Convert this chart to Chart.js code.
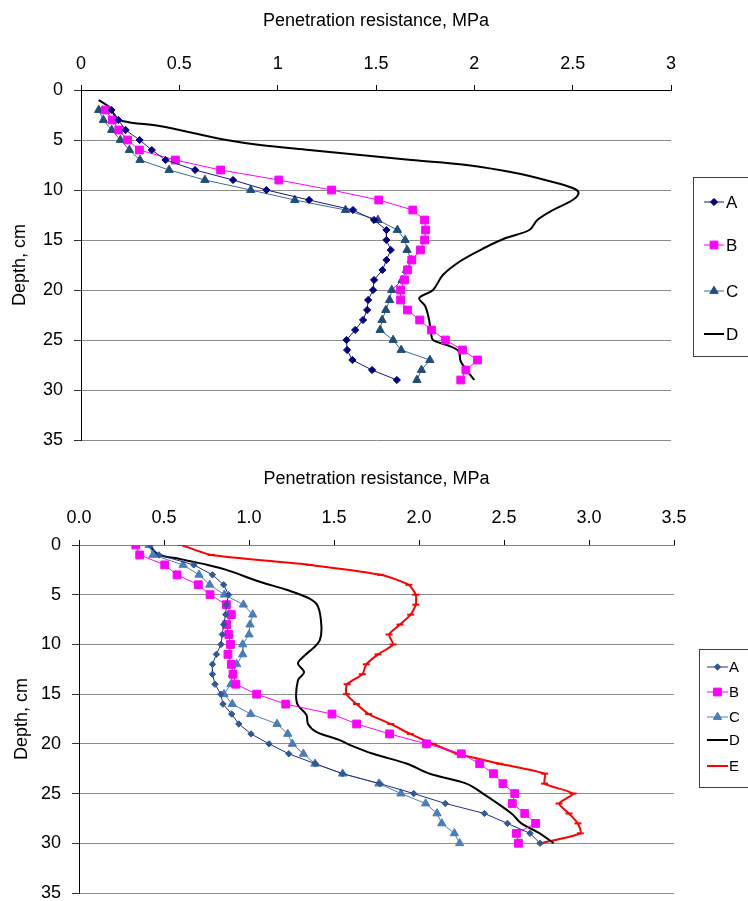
<!DOCTYPE html>
<html>
<head>
<meta charset="utf-8">
<script src="https://cdn.jsdelivr.net/npm/chart.js@4.4.0/dist/chart.umd.min.js"></script>
<style>
  html, body { margin: 0; padding: 0; background: #fff; }
  #wrap1 { position: absolute; left: 0; top: 0; width: 748px; height: 450px; }
  #wrap2 { position: absolute; left: 0; top: 450px; width: 748px; height: 451px; }
</style>
</head>
<body>
<div id="wrap1"><canvas id="chart1" width="748" height="450"></canvas></div>
<div id="wrap2"><canvas id="chart2" width="748" height="451"></canvas></div>
<script>
// ---- top chart data (depth in cm, resistance in MPa) ----
const depth1 = [2,3,4,5,6,7,8,9,10,11,12,13,14,15,16,17,18,19,20,21,22,23,24,25,26,27,28,29];
const a1 = [0.155,0.19,0.227,0.298,0.36,0.43,0.58,0.773,0.943,1.16,1.383,1.49,1.553,1.553,1.575,1.553,1.533,1.49,1.485,1.46,1.455,1.434,1.394,1.35,1.353,1.38,1.48,1.606];
const b1 = [0.124,0.16,0.192,0.237,0.297,0.48,0.71,1.006,1.274,1.514,1.687,1.747,1.752,1.747,1.726,1.682,1.66,1.645,1.625,1.625,1.66,1.722,1.782,1.853,1.94,2.016,1.957,1.931];
const c1 = [0.09,0.114,0.156,0.2,0.246,0.3,0.448,0.63,0.863,1.087,1.345,1.51,1.609,1.648,1.658,1.68,1.655,1.633,1.58,1.569,1.55,1.531,1.521,1.587,1.628,1.774,1.731,1.708];
const dDepth1 = [1.0,1.8,2.5,3.1,3.6,4.3,5.0,5.5,6.0,6.5,7.0,7.5,8.3,9.1,9.8,10.3,11.0,12.0,13.0,14.0,14.8,15.8,17.1,18.5,20.0,20.8,21.6,23.0,24.3,25.0,25.5,26.1,27.1,28.0,29.0];
const d1 = [0.09,0.15,0.17,0.21,0.40,0.57,0.74,0.91,1.16,1.42,1.68,1.96,2.21,2.38,2.50,2.53,2.50,2.40,2.32,2.28,2.16,2.05,1.93,1.84,1.79,1.72,1.75,1.77,1.78,1.79,1.86,1.92,1.93,1.96,2.00];

// ---- bottom chart data ----
const depth2 = [0,1,2,3,4,5,6,7,8,9,10,11,12,13,14,15,16,17,18,19,20,21,22,23,24,25,26,27,28,29,30];
const a2 = [0.416,0.47,0.675,0.785,0.851,0.88,0.867,0.863,0.851,0.843,0.835,0.808,0.785,0.785,0.8,0.834,0.847,0.898,0.94,1.012,1.118,1.234,1.39,1.55,1.77,1.969,2.155,2.385,2.52,2.653,2.712];
const b2 = [0.334,0.357,0.504,0.577,0.702,0.771,0.867,0.896,0.869,0.881,0.891,0.876,0.896,0.906,0.922,1.045,1.216,1.488,1.633,1.827,2.044,2.249,2.357,2.438,2.494,2.563,2.549,2.622,2.686,2.573,2.585];
const c2 = [0.412,0.435,0.612,0.706,0.769,0.855,0.967,1.022,1.006,1.0,0.963,0.963,0.928,0.902,0.894,0.853,0.902,1.01,1.165,1.228,1.255,1.32,1.388,1.551,1.764,1.894,2.039,2.106,2.134,2.208,2.239];
const e2 = [0.602,0.779,1.357,1.774,1.94,1.981,1.981,1.951,1.888,1.824,1.847,1.759,1.69,1.667,1.577,1.573,1.632,1.704,1.834,1.949,2.082,2.229,2.475,2.739,2.739,2.906,2.824,2.882,2.935,2.949,2.714];
const dDepth2 = [0,0.7,1.1,1.4,1.9,2.5,3.7,4.5,5.4,6.2,8.2,9.6,10.4,11.1,11.9,12.8,13.6,15.9,17.1,18.0,18.8,19.6,20.1,21.0,22.0,23.0,24.0,25.0,27.0,28.0,29.0,30.0];
const d2 = [0.416,0.445,0.494,0.592,0.73,0.867,1.063,1.22,1.357,1.406,1.426,1.416,1.376,1.328,1.288,1.324,1.288,1.282,1.338,1.347,1.396,1.53,1.592,1.73,1.93,2.063,2.279,2.376,2.544,2.602,2.71,2.792];

const FONT = "'Liberation Sans', Arial, sans-serif";

function pts(depths, values) {
  return values.map((v, i) => ({ x: v, y: depths[i] }));
}

// legend drawn in a box at a fixed spot, like the spreadsheet original
const boxLegend = {
  id: 'boxLegend',
  afterDraw(chart, args, o) {
    const ctx = chart.ctx;
    ctx.save();
    ctx.strokeStyle = '#404040';
    ctx.lineWidth = 1;
    ctx.strokeRect(o.left + 0.5, o.top + 0.5, o.width, o.height);
    ctx.font = o.font;
    ctx.textBaseline = 'middle';
    ctx.textAlign = 'left';
    chart.data.datasets.forEach((ds, i) => {
      const y = o.rows[i];
      ctx.strokeStyle = ds.borderColor;
      ctx.lineWidth = ds.borderWidth;
      ctx.beginPath();
      ctx.moveTo(o.x0, y);
      ctx.lineTo(o.x1, y);
      ctx.stroke();
      if (ds.pointRadius > 0) {
        ctx.fillStyle = ds.pointBackgroundColor;
        ctx.strokeStyle = ds.pointBorderColor;
        ctx.lineWidth = ds.pointBorderWidth;
        Chart.helpers.drawPoint(ctx, { pointStyle: ds.pointStyle, radius: ds.pointRadius, borderWidth: ds.pointBorderWidth, rotation: 0 }, (o.x0 + o.x1) / 2, y);
      }
      ctx.fillStyle = '#000';
      ctx.fillText(ds.label, o.textX, y + 1);
    });
    ctx.restore();
  }
};

function markerSet(label, data, line, fill, style, radius, lw) {
  return {
    label: label, data: data, showLine: true,
    borderColor: line, borderWidth: lw || 1,
    pointStyle: style, pointRadius: radius, pointHoverRadius: radius,
    pointBackgroundColor: fill, pointBorderColor: fill, pointBorderWidth: 1,
    tension: 0
  };
}

function smoothSet(label, data, color, tension) {
  return {
    label: label, data: data, showLine: true,
    borderColor: color, borderWidth: 2,
    pointRadius: 0, pointHoverRadius: 0,
    tension: tension
  };
}

function noPad(s) {
  s.paddingTop = 0; s.paddingBottom = 0; s.paddingLeft = 0; s.paddingRight = 0;
}

function setupChart(id, cfg) {
  const canvas = document.getElementById(id);
  const ctx = canvas.getContext('2d');
  const fs = cfg.fontSize;
  return new Chart(ctx, {
    type: 'scatter',
    data: { datasets: cfg.datasets },
    options: {
      responsive: false,
      animation: false,
      events: [],
      layout: { padding: cfg.padding },
      plugins: {
        legend: { display: false },
        tooltip: { enabled: false },
        boxLegend: cfg.legend
      },
      scales: {
        x: {
          type: 'linear', position: 'top', min: 0, max: cfg.xMax,
          ticks: { stepSize: 0.5, color: '#000', padding: cfg.xTickPad,
                   font: { family: FONT, size: fs },
                   callback: cfg.xFmt },
          grid: { drawOnChartArea: false, drawTicks: true, tickLength: 5, tickColor: '#000' },
          border: { color: cfg.xBorder, width: 1 },
          title: { display: true, text: 'Penetration resistance, MPa', color: '#000',
                   font: { family: FONT, size: fs }, padding: { top: cfg.xTitlePad, bottom: 0 } },
          afterFit(s) { s.height = cfg.xHeight; noPad(s); }
        },
        y: {
          type: 'linear', reverse: true, min: 0, max: 35,
          ticks: { stepSize: 5, color: '#000', padding: 11, font: { family: FONT, size: fs } },
          grid: { color: '#8c8c8c', lineWidth: 1, tickColor: '#333', tickLength: 7 },
          border: { color: '#000', width: 1 },
          title: { display: true, text: 'Depth, cm', color: '#000',
                   font: { family: FONT, size: fs }, padding: { top: cfg.yTitlePad, bottom: 0 } },
          afterFit(s) { s.width = cfg.yWidth; noPad(s); }
        }
      }
    },
    plugins: [boxLegend]
  });
}

setupChart('chart1', {
  fontSize: 18,
  xMax: 3,
  xFmt: v => String(v),
  xBorder: '#000',
  xTickPad: 10,
  xTitlePad: 10,
  xHeight: 90,
  yWidth: 81,
  yTitlePad: 9,
  padding: { left: 0, top: 0, right: 77, bottom: 10 },
  datasets: [
    markerSet('A', pts(depth1, a1), '#1a1a80', '#000080', 'rectRot', 3.6),
    markerSet('B', pts(depth1, b1), '#ff00ff', '#ff00ff', 'rect', 5.5),
    markerSet('C', pts(depth1, c1), '#3b6a9a', '#1f4e79', 'triangle', 4.8),
    smoothSet('D', pts(dDepth1, d1), '#000', 0.35)
  ],
  legend: { left: 693, top: 177, width: 80, height: 179, x0: 704, x1: 724, textX: 726,
            rows: [202, 245, 291, 334], font: '17px ' + FONT }
});

setupChart('chart2', {
  fontSize: 18,
  xMax: 3.5,
  xFmt: v => Number(v).toFixed(1),
  xBorder: '#808080',
  xTickPad: 11,
  xTitlePad: 18,
  xHeight: 95,
  yWidth: 79,
  yTitlePad: 11,
  padding: { left: 0, top: 0, right: 74, bottom: 8 },
  datasets: [
    markerSet('A', pts(depth2, a2), '#1f2f8a', '#2f5a96', 'rectRot', 3.2),
    markerSet('B', pts(depth2, b2), '#ff00ff', '#ff00ff', 'rect', 5.5),
    markerSet('C', pts(depth2, c2), '#4a7ebb', '#4a7ebb', 'triangle', 4.8),
    smoothSet('D', pts(dDepth2, d2), '#000', 0.35),
    Object.assign(markerSet('E', pts(depth2, e2), '#ff0000', '#ff0000', 'line', 3.5, 2), { pointBorderWidth: 2, tension: 0.2 })
  ],
  legend: { left: 699, top: 199, width: 80, height: 138, x0: 707, x1: 728, textX: 729,
            rows: [217, 242, 267, 290, 316], font: '15px ' + FONT }
});
</script>
</body>
</html>
